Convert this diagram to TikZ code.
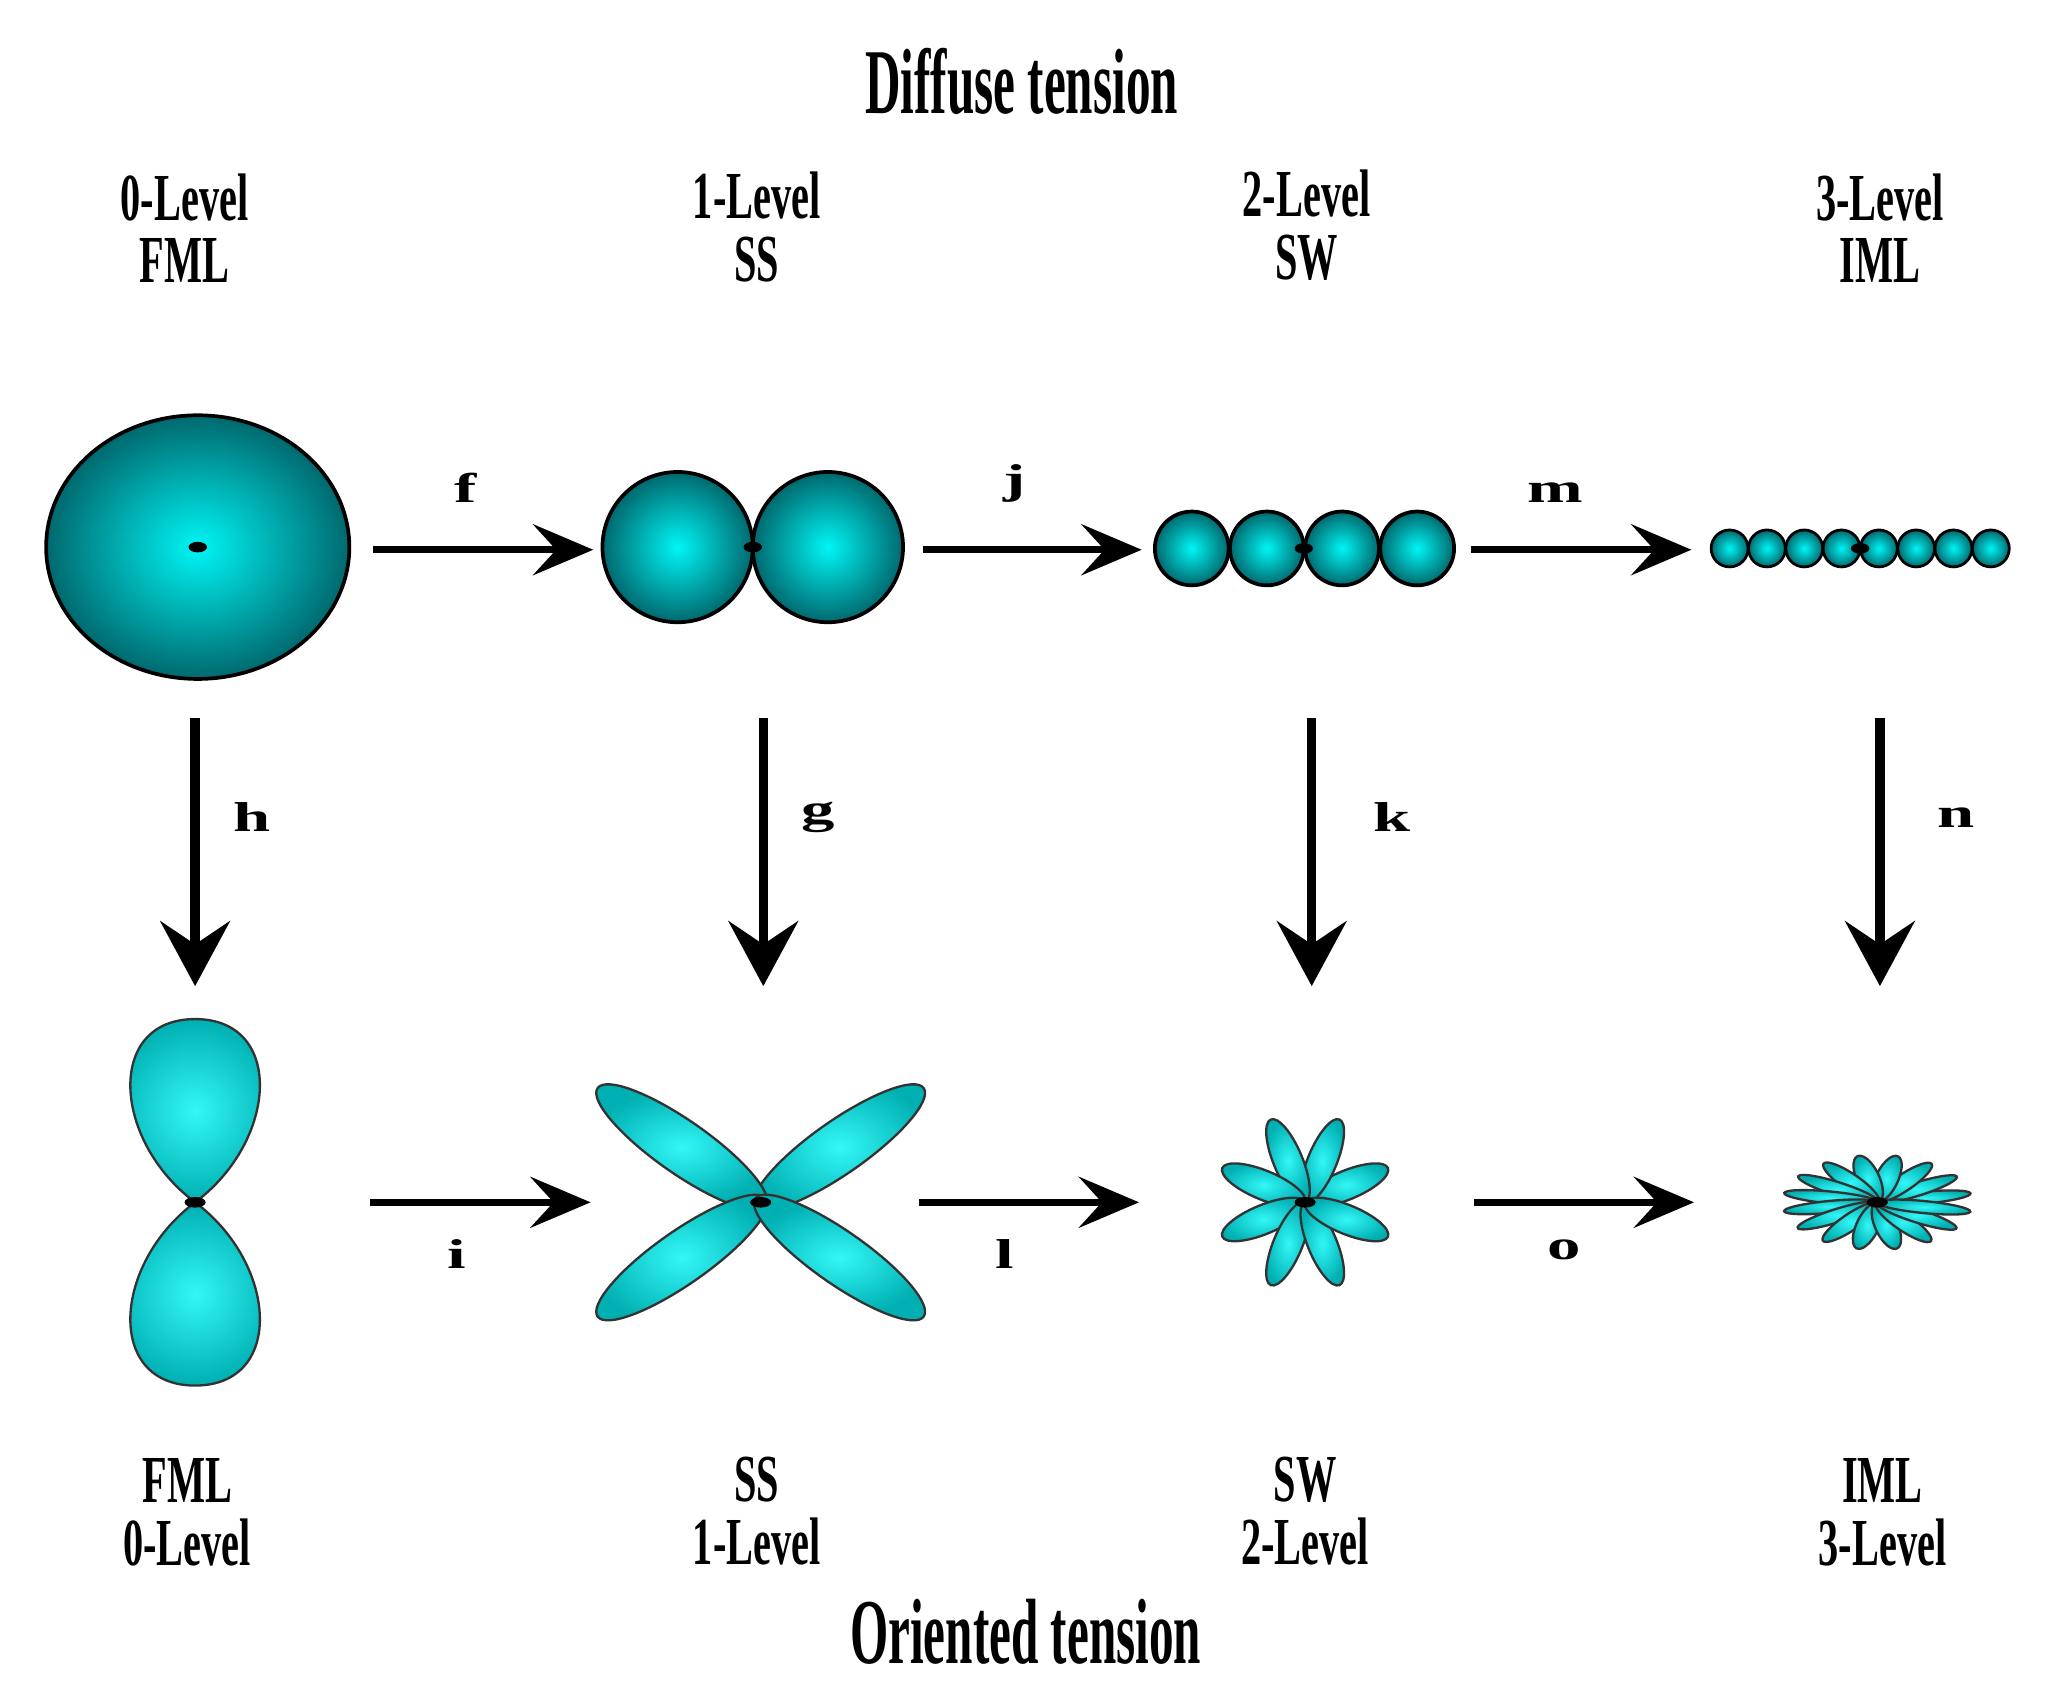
\documentclass[tikz,border=0pt]{standalone}
\usepackage{fontspec}
\setmainfont{Liberation Serif}
\usetikzlibrary{arrows.meta}
\definecolor{cy}{RGB}{0,245,245}
\definecolor{tealdark}{RGB}{0,105,110}
\definecolor{petalout}{RGB}{0,175,178}
\tikzset{
  ball/.style={draw=black, line width=0.8pt, inner color=cy, outer color=tealdark},
  petal/.style={draw=black!80, line width=0.5pt, inner color=cy!80!white, outer color=petalout},
  arr/.style={line width=1.6pt, -{Stealth[length=13pt,width=11pt,inset=5pt]}},
  varr/.style={line width=2pt, -{Stealth[length=14pt,width=15pt,inset=5pt]}},
  lvl/.style={font=\fontsize{14.5}{13.5}\selectfont\bfseries, align=center},
  ttl/.style={font=\fontsize{20}{20}\selectfont\bfseries},
  let/.style={font=\fontsize{9}{9}\selectfont\bfseries},
  dot/.style={fill=black}
}
\newcommand{\cond}[1]{\scalebox{0.6}[1]{#1}}
\newcommand{\tcond}[1]{\scalebox{0.53}[1]{#1}}
\newcommand{\wide}[1]{\scalebox{1.6}[1]{#1}}
\begin{document}
\begin{tikzpicture}[x=0.01cm,y=-0.01cm]
\useasboundingbox[fill=white] (0,0) rectangle (1552,1275);
\node[ttl] (t1) at (775,62) {\tcond{Diffuse tension}};
\node[ttl] (t2) at (778,1238) {\tcond{Oriented tension}};
\node[lvl] (a0) at (140,173) {\cond{0-Level}\\\cond{FML}};
\node[lvl] (a1) at (574,172) {\cond{1-Level}\\\cond{SS}};
\node[lvl] (a2) at (991,171) {\cond{2-Level}\\\cond{SW}};
\node[lvl] (a3) at (1426,173) {\cond{3-Level}\\\cond{IML}};
\node[lvl] (b0) at (142,1147) {\cond{FML}\\\cond{0-Level}};
\node[lvl] (b1) at (574,1146) {\cond{SS}\\\cond{1-Level}};
\node[lvl] (b2) at (990,1146) {\cond{SW}\\\cond{2-Level}};
\node[lvl] (b3) at (1428,1147) {\cond{IML}\\\cond{3-Level}};
\shade[ball] (150,415) ellipse (115 and 100);
\fill[dot] (150,415) ellipse (7 and 4);
\shade[ball] (514,415) circle (57);
\shade[ball] (628,415) circle (57);
\fill[dot] (571,415) ellipse (7 and 4);
\foreach \x in {904,961,1018,1075} \shade[ball] (\x,416) circle (28);
\fill[dot] (989,416) ellipse (7 and 4);
\foreach \i in {0,...,7} \shade[ball,line width=0.6pt] (1312+28.3*\i,416) circle (14);
\fill[dot] (1411,416) ellipse (7 and 4);
\shade[petal] (148,912) .. controls (85,865) and (80,773) .. (148,773) .. controls (216,773) and (211,865) .. (148,912) -- cycle;
\shade[petal] (148,912) .. controls (85,959) and (80,1051) .. (148,1051) .. controls (216,1051) and (211,959) .. (148,912) -- cycle;
\fill[dot] (148,912) ellipse (8 and 4);
\begin{scope}[shift={(577,912)}]
\foreach \a in {35,145,215,325} \shade[petal,rotate=\a] (73,0) ellipse (78 and 20);
\end{scope}
\fill[dot] (577,912) ellipse (8 and 4);
\begin{scope}[shift={(990,912)}]
\foreach \a in {0,45,...,315} \shade[petal,rotate=\a+22.5] (34,0) ellipse (34 and 11);
\end{scope}
\fill[dot] (990,912) ellipse (8 and 4);
\begin{scope}[shift={(1424,912)},yscale=0.5]
\foreach \a in {0,22.5,...,337.5} \shade[petal,rotate=\a+11] (36,0) ellipse (36 and 9);
\end{scope}
\fill[dot] (1424,912) ellipse (8 and 4);
\coordinate (f1) at (283,417); \coordinate (f2) at (450,417);
\coordinate (j1) at (700,417); \coordinate (j2) at (866,417);
\coordinate (m1) at (1116,417); \coordinate (m2) at (1283,417);
\coordinate (i1) at (281,912); \coordinate (i2) at (448,912);
\coordinate (l1) at (697,912); \coordinate (l2) at (864,912);
\coordinate (o1) at (1118,912); \coordinate (o2) at (1285,912);
\draw[arr] (f1) -- node[let,above=6pt,pos=0.42]{\wide{f}} (f2);
\draw[arr] (j1) -- node[let,above=6pt,pos=0.42]{\wide{j}} (j2);
\draw[arr] (m1) -- node[let,above=6pt,pos=0.38]{\wide{m}} (m2);
\draw[arr] (i1) -- node[let,below=4pt,pos=0.39]{\wide{i}} (i2);
\draw[arr] (l1) -- node[let,below=4pt,pos=0.39]{\wide{l}} (l2);
\draw[arr] (o1) -- node[let,below=4pt,pos=0.41]{\wide{o}} (o2);
\coordinate (h1) at (148,545); \coordinate (h2) at (148,748);
\coordinate (g1) at (579,545); \coordinate (g2) at (579,748);
\coordinate (k1) at (995,545); \coordinate (k2) at (995,748);
\coordinate (n1) at (1426,545); \coordinate (n2) at (1426,748);
\draw[varr] (h1) -- node[let,right=4pt,pos=0.37]{\wide{h}} (h2);
\draw[varr] (g1) -- node[let,right=4pt,pos=0.37]{\wide{g}} (g2);
\draw[varr] (k1) -- node[let,right=9pt,pos=0.37]{\wide{k}} (k2);
\draw[varr] (n1) -- node[let,right=8pt,pos=0.37]{\wide{n}} (n2);
\end{tikzpicture}
\end{document}
